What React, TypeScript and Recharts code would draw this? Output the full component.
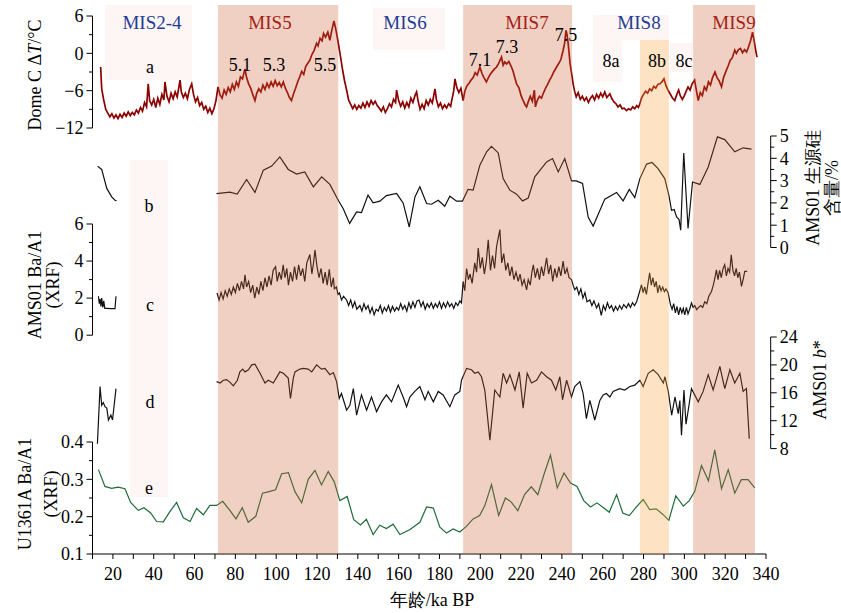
import React from 'react';
import { ComposedChart, Line, XAxis, YAxis, ReferenceArea } from 'recharts';

type Pt = [number, number | null];

// a: Dome C ΔT (°C) vs age (ka BP)
const domeC: Pt[] = [
  [14.0, -2.2], [14.5, -5.7], [15.5, -7.5], [16.5, -9.0], [17.5, -9.6], [18.5, -10.2], [19.5, -9.7], [20.5, -10.4],
  [21.5, -9.9], [22.5, -10.5], [23.5, -9.8], [24.5, -10.3], [25.5, -9.6], [26.5, -10.1], [27.5, -9.4], [28.5, -10.0],
  [29.5, -9.5], [30.5, -9.9], [31.5, -9.1], [32.5, -9.6], [33.5, -8.7], [34.5, -9.3], [35.5, -7.9], [36.5, -8.6],
  [37.3, -4.9], [38.0, -7.6], [39.0, -8.3], [40.0, -7.4], [41.0, -8.7], [42.0, -7.2], [43.0, -8.2], [44.0, -6.6],
  [45.0, -7.5], [45.5, -4.6], [46.5, -6.9], [47.5, -7.8], [48.5, -6.4], [49.5, -7.3], [50.5, -6.2], [51.5, -7.0],
  [52.9, -4.3], [53.5, -6.2], [54.5, -7.1], [55.5, -6.4], [56.5, -7.3], [57.5, -5.8], [58.6, -4.9], [59.5, -6.6],
  [60.5, -7.8], [61.5, -7.1], [62.5, -8.4], [63.5, -7.9], [64.5, -9.0], [65.5, -8.5], [66.5, -9.5], [67.5, -8.8],
  [68.5, -9.7], [69.5, -8.9], [70.5, -7.6], [71.5, -5.4], [72.5, -6.7], [73.5, -7.2], [74.5, -5.9], [75.5, -6.6],
  [76.5, -5.5], [77.5, -6.2], [78.5, -5.0], [79.5, -5.8], [80.5, -4.6], [81.5, -5.3], [82.5, -3.8], [83.5, -4.1],
  [84.7, -2.5], [85.5, -3.9], [86.5, -4.9], [87.5, -5.6], [88.5, -6.6], [89.6, -7.6], [90.5, -6.4], [91.5, -5.7],
  [92.5, -6.2], [93.5, -5.1], [94.5, -5.8], [95.5, -4.8], [96.5, -5.5], [97.5, -4.6], [98.5, -5.3], [99.5, -4.4],
  [100.5, -5.2], [101.5, -4.7], [102.5, -5.4], [103.5, -4.6], [104.5, -5.6], [105.5, -6.3], [106.5, -7.1], [107.5, -7.6],
  [108.5, -6.5], [109.5, -5.6], [110.5, -4.6], [111.5, -3.8], [112.5, -2.9], [113.5, -3.4], [114.5, -2.1], [115.5, -1.6],
  [116.5, -1.1], [117.5, -0.2], [118.5, 0.4], [119.8, 1.6], [120.5, 1.2], [121.5, 2.4], [122.5, 2.0], [123.2, 3.2],
  [124.2, 2.6], [125.3, 3.4], [126.3, 2.1], [127.2, 3.6], [128.3, 5.2], [129.0, 4.2], [129.6, 3.2], [130.5, 1.5],
  [131.5, -0.5], [132.5, -2.6], [133.5, -4.4], [134.5, -5.9], [135.5, -7.5], [136.5, -8.2], [137.5, -8.9], [138.5, -8.3],
  [139.5, -9.0], [140.5, -8.4], [141.5, -8.8], [142.5, -8.0], [143.5, -8.7], [144.5, -7.8], [145.5, -8.5], [146.5, -7.6],
  [147.5, -8.2], [148.5, -7.7], [149.5, -8.4], [150.5, -8.8], [151.5, -9.3], [152.5, -8.6], [153.5, -9.5], [154.5, -8.9],
  [155.5, -8.1], [156.5, -8.6], [157.5, -7.4], [158.5, -7.9], [159.0, -5.9], [160.0, -7.6], [161.0, -8.5], [162.0, -7.8],
  [163.0, -8.8], [164.0, -7.9], [165.0, -8.6], [166.0, -7.2], [167.0, -7.9], [168.0, -6.8], [168.8, -6.2], [169.5, -7.6],
  [170.5, -9.0], [171.5, -8.2], [172.5, -8.9], [173.5, -7.6], [174.5, -8.3], [175.5, -7.4], [176.5, -8.0], [177.8, -5.7],
  [178.5, -7.4], [179.5, -8.6], [180.5, -8.0], [181.5, -8.9], [182.5, -8.3], [183.5, -8.8], [184.5, -8.1], [185.5, -8.5],
  [186.0, -7.6], [187.0, -6.0], [187.6, -4.1], [188.5, -5.5], [189.5, -6.3], [190.5, -5.6], [191.6, -7.6], [192.5, -6.0],
  [193.5, -5.2], [194.5, -4.8], [195.5, -4.3], [196.5, -3.9], [197.5, -3.1], [198.5, -3.5], [199.8, -2.2], [200.8, -3.2],
  [201.8, -3.9], [203.0, -4.6], [204.0, -3.9], [205.0, -3.3], [206.0, -2.9], [207.0, -2.5], [208.0, -2.2], [209.0, -1.6],
  [210.4, -0.6], [211.2, -1.9], [212.0, -1.4], [212.9, -1.7], [214.0, -1.3], [215.0, -2.0], [216.0, -2.8], [217.0, -4.0],
  [217.8, -4.9], [219.0, -5.6], [220.0, -6.8], [221.0, -7.6], [222.0, -8.3], [222.7, -8.6], [223.5, -7.8], [224.5, -6.9],
  [225.5, -7.7], [226.5, -5.9], [227.0, -8.6], [228.0, -7.5], [229.0, -6.9], [230.0, -7.2], [230.8, -6.5], [232.0, -5.6],
  [233.0, -5.0], [234.0, -4.3], [235.0, -3.7], [236.0, -3.0], [237.4, -2.2], [238.5, -1.6], [239.5, -1.0], [240.6, 0.5],
  [241.3, 1.6], [242.0, 3.7], [242.5, 3.0], [243.0, 1.8], [244.0, -1.6], [245.0, -3.8], [245.5, -4.9], [246.3, -6.2],
  [247.0, -7.0], [248.0, -6.3], [249.0, -7.4], [250.0, -6.9], [251.0, -7.6], [252.0, -7.1], [253.0, -7.9], [254.0, -7.2],
  [255.0, -6.8], [256.0, -7.5], [257.0, -6.6], [258.0, -7.2], [259.0, -6.4], [260.0, -7.0], [261.0, -6.2], [262.0, -7.1],
  [263.5, -6.5], [264.5, -7.3], [265.5, -7.8], [266.5, -8.1], [267.5, -8.6], [268.5, -8.3], [269.5, -8.9], [270.5, -8.8],
  [271.7, -9.2], [272.7, -8.9], [273.7, -9.1], [274.7, -8.6], [275.7, -8.9], [276.7, -8.4], [277.5, -8.7], [278.2, -8.1],
  [279.0, -7.2], [280.0, -6.6], [281.0, -6.1], [282.0, -6.4], [283.0, -5.7], [284.0, -6.0], [285.0, -5.3], [286.0, -5.6],
  [287.0, -5.0], [288.0, -4.9], [289.0, -4.6], [290.0, -4.1], [291.0, -5.2], [292.0, -5.9], [293.0, -6.5], [294.0, -7.1],
  [295.3, -7.6], [296.3, -6.6], [297.2, -5.9], [298.0, -6.8], [299.0, -7.4], [300.0, -6.8], [301.0, -6.0], [301.8, -5.4],
  [302.8, -5.9], [303.8, -4.9], [305.0, -4.3], [305.8, -5.8], [306.8, -7.6], [307.8, -6.3], [308.8, -6.8], [309.8, -5.4],
  [310.8, -5.9], [311.8, -4.6], [312.8, -5.1], [313.8, -3.9], [315.0, -3.0], [316.0, -3.9], [317.0, -4.4], [318.2, -5.4],
  [319.2, -3.9], [320.6, -2.7], [321.5, -2.0], [322.5, -1.1], [323.5, -0.7], [324.7, 0.5], [325.5, 0.0], [326.5, 0.6],
  [327.5, 0.8], [328.5, 0.1], [329.5, 0.6], [330.5, 0.2], [331.5, 1.1], [332.5, 2.1], [333.4, 3.4], [334.2, 2.0],
  [335.0, 0.4], [335.6, -0.6],
];

// b: AMS01 biogenic silica (%)
const opal: Pt[] = [
  [12.5, 3.65], [14.5, 3.5], [17.0, 2.65], [19.4, 2.27], [21.0, 2.12], [21.8, 2.1], [45, null],
  [70.8, 2.42], [77.3, 2.48], [80.9, 2.4], [85.5, 3.05], [89.6, 2.47], [93.7, 3.47], [97.8, 3.65], [101.8, 4.06],
  [105.9, 3.5], [110.0, 3.29], [114.0, 3.39], [118.2, 2.72], [122.3, 3.17], [126.3, 2.83], [130.4, 2.12], [132.8, 1.75],
  [136.0, 1.08], [139.4, 1.6], [141.8, 1.57], [145.0, 2.35], [147.5, 2.0], [150.8, 2.08], [154.0, 2.33], [159.0, 2.42],
  [162.2, 2.0], [165.2, 0.92], [168.0, 2.27], [170.4, 2.72], [173.7, 1.97], [176.1, 1.94], [179.4, 2.12], [182.6, 1.85],
  [185.1, 2.3], [188.4, 2.08], [191.3, 2.08], [194.0, 2.61], [196.5, 2.57], [199.8, 3.69], [203.1, 4.29], [205.5, 4.54],
  [208.8, 4.24], [211.2, 3.09], [214.5, 2.57], [217.8, 2.39], [220.7, 2.09], [223.5, 2.22], [226.7, 3.17], [232.5, 3.84],
  [235.4, 3.99], [238.2, 3.39], [241.4, 3.99], [244.7, 2.99], [247.0, 2.99], [250.1, 2.87], [252.9, 1.35], [255.3, 0.96],
  [261.0, 2.17], [266.8, 2.47], [270.0, 2.09], [273.0, 2.6], [275.7, 2.24], [278.2, 3.09], [281.5, 3.74], [284.2, 3.81],
  [287.1, 3.54], [290.4, 3.09], [292.5, 2.3], [293.7, 1.67], [295.0, 1.7], [296.2, 1.37], [297.4, 1.25], [298.2, 0.78],
  [299.7, 4.24], [301.8, 0.85], [304.0, 2.94], [307.6, 2.83], [311.7, 3.61], [316.2, 4.96], [319.8, 4.84], [324.7, 4.29],
  [328.8, 4.47], [332.9, 4.41],
];

// c: AMS01 Ba/Al (XRF)
const baAms: Pt[] = [
  [12.9, 2.1], [13.3, 1.7], [13.7, 1.95], [14.1, 1.55], [14.5, 2.0], [15.0, 1.5], [15.5, 1.85], [16.0, 1.45],
  [17.0, 1.45], [19.0, 1.43], [21.0, 1.43], [21.5, 2.1], [45, null],
  [71.0, 2.28], [72.0, 1.9], [73.0, 2.3], [74.0, 1.95], [75.0, 2.4], [76.0, 2.1], [77.0, 2.5], [78.0, 2.2],
  [79.0, 2.6], [80.0, 2.3], [81.0, 2.8], [82.0, 2.4], [83.0, 2.9], [84.0, 2.5], [84.7, 3.26], [85.5, 2.6],
  [86.5, 2.9], [87.5, 2.3], [88.5, 2.7], [89.5, 2.0], [90.5, 2.6], [91.5, 2.2], [92.5, 2.9], [93.5, 2.4],
  [94.5, 3.1], [95.5, 2.6], [96.5, 3.2], [97.5, 2.7], [98.5, 3.5], [99.7, 3.7], [100.5, 2.9], [101.5, 3.4],
  [102.5, 3.0], [103.4, 3.8], [104.3, 3.1], [105.2, 3.6], [106.0, 2.7], [107.0, 3.4], [108.0, 2.9], [109.0, 3.7],
  [110.0, 3.0], [111.0, 3.8], [112.0, 3.2], [113.0, 3.6], [114.0, 2.9], [115.0, 3.9], [116.5, 4.35], [117.5, 3.3],
  [118.3, 3.9], [119.0, 4.6], [120.0, 3.7], [121.0, 3.1], [122.0, 3.6], [123.0, 2.8], [124.0, 3.4], [125.0, 2.7],
  [126.0, 3.55], [127.0, 2.6], [128.0, 3.1], [128.5, 2.5], [129.5, 2.6], [130.3, 2.2], [131.0, 2.28], [132.0, 1.9],
  [133.0, 2.1], [134.5, 1.9], [135.5, 1.6], [136.5, 1.9], [137.5, 1.5], [138.5, 1.8], [139.5, 1.4], [141.0, 1.6],
  [142.0, 1.3], [143.0, 1.7], [144.0, 1.4], [145.0, 1.6], [146.0, 1.2], [147.0, 1.5], [148.0, 1.1], [149.0, 1.4],
  [150.0, 1.3], [151.0, 1.6], [152.0, 1.2], [153.0, 1.5], [154.0, 1.3], [155.0, 1.6], [156.0, 1.25], [157.0, 1.55],
  [158.0, 1.3], [159.0, 1.5], [160.0, 1.35], [161.0, 1.7], [162.0, 1.4], [163.0, 1.6], [164.0, 1.3], [165.0, 1.75],
  [166.0, 1.45], [167.0, 1.8], [168.0, 1.5], [169.0, 1.85], [170.0, 1.9], [171.0, 1.55], [172.0, 1.8], [173.0, 1.4],
  [174.0, 1.7], [175.0, 1.5], [176.0, 1.75], [177.0, 1.45], [178.0, 1.7], [179.0, 1.5], [180.0, 1.8], [181.0, 1.45],
  [182.0, 1.75], [183.0, 1.5], [184.0, 1.8], [185.0, 1.55], [186.0, 1.7], [187.0, 1.45], [188.0, 1.75], [189.0, 1.6],
  [190.0, 1.85], [190.8, 1.74], [191.6, 2.9], [192.4, 2.4], [193.3, 3.6], [194.2, 3.0], [195.0, 3.3], [196.0, 2.8],
  [197.3, 3.9], [198.2, 3.4], [199.0, 4.7], [200.0, 3.6], [201.0, 4.2], [202.0, 3.3], [203.0, 4.0], [203.9, 5.15],
  [205.0, 3.5], [206.0, 4.3], [207.0, 3.6], [208.0, 4.8], [209.6, 5.7], [210.5, 3.9], [211.5, 4.4], [212.5, 3.5],
  [213.5, 3.9], [214.5, 3.2], [215.5, 3.7], [216.5, 3.0], [217.5, 3.4], [218.6, 2.9], [219.5, 3.3], [220.5, 2.7],
  [221.5, 3.0], [222.7, 2.45], [223.5, 3.0], [224.5, 2.7], [225.3, 3.4], [226.0, 3.8], [227.0, 3.1], [228.0, 3.6],
  [229.0, 3.0], [230.0, 3.7], [231.0, 3.2], [232.5, 4.17], [233.5, 3.3], [234.5, 3.8], [235.5, 2.9], [236.5, 3.6],
  [237.5, 3.1], [238.5, 3.7], [239.5, 3.2], [240.6, 4.0], [241.5, 3.3], [242.5, 3.6], [243.5, 3.1], [244.7, 3.0],
  [245.5, 2.7], [246.3, 2.45], [247.3, 2.6], [248.3, 2.2], [249.3, 2.5], [250.3, 2.0], [251.3, 2.3], [252.3, 1.8],
  [253.7, 1.9], [254.7, 1.6], [255.7, 1.85], [257.0, 1.47], [258.0, 1.7], [259.3, 1.07], [260.3, 1.6], [261.3, 1.35],
  [262.3, 1.75], [263.3, 1.45], [264.3, 1.6], [265.3, 1.3], [266.3, 1.55], [267.3, 1.35], [268.3, 1.6], [269.3, 1.4],
  [270.3, 1.65], [271.6, 1.47], [272.6, 1.7], [273.6, 1.5], [274.6, 1.75], [275.6, 1.6], [276.6, 1.8], [277.4, 2.1],
  [278.2, 2.4], [279.0, 2.72], [279.8, 2.3], [280.6, 2.6], [281.4, 2.2], [282.2, 2.8], [283.0, 3.36], [283.8, 2.7],
  [284.6, 3.1], [285.4, 2.6], [286.2, 2.9], [287.0, 2.28], [287.8, 2.7], [288.6, 2.4], [289.4, 2.6], [290.2, 2.35],
  [291.0, 2.5], [292.0, 2.3], [293.2, 1.65], [294.0, 1.4], [294.8, 1.7], [295.6, 1.2], [296.4, 1.55], [297.2, 1.1],
  [298.0, 1.5], [298.8, 1.2], [299.5, 1.45], [300.2, 1.1], [301.0, 1.5], [301.8, 1.15], [302.6, 1.4], [303.5, 1.74],
  [304.3, 1.5], [305.1, 1.6], [306.0, 1.38], [307.0, 1.5], [308.0, 1.6], [309.0, 1.5], [310.0, 1.8], [311.0, 1.7],
  [312.0, 2.1], [313.3, 2.36], [314.2, 2.7], [315.0, 3.1], [315.7, 3.53], [316.5, 3.0], [317.3, 3.5], [318.1, 3.1],
  [319.0, 3.6], [319.8, 3.8], [320.6, 3.2], [321.4, 3.6], [322.2, 3.4], [323.0, 4.34], [323.8, 3.5], [324.6, 3.2],
  [325.4, 3.6], [326.2, 3.1], [327.0, 3.4], [328.0, 2.63], [328.8, 3.0], [329.6, 3.44], [330.8, 3.44],
];

// d: AMS01 b*
const bStar: Pt[] = [
  [12.4, 8.7], [13.7, 16.9], [14.5, 14.2], [15.3, 14.6], [16.1, 14.0], [17.0, 13.8], [17.8, 12.1], [19.0, 12.8],
  [19.8, 12.1], [21.5, 16.6], [45, null],
  [70.8, 17.6], [72.5, 17.4], [74.1, 17.8], [75.7, 17.9], [77.4, 17.5], [79.0, 17.0], [81.0, 17.8], [82.2, 19.0],
  [83.6, 19.4], [84.7, 19.0], [86.4, 19.3], [88.0, 20.0], [89.6, 20.1], [92.1, 18.8], [94.5, 17.4], [96.1, 17.8],
  [98.6, 17.4], [101.8, 19.0], [103.5, 18.8], [105.9, 18.1], [107.0, 15.2], [108.4, 18.1], [109.2, 19.0], [111.6, 19.4],
  [113.3, 19.5], [115.7, 19.4], [117.4, 19.0], [119.8, 20.0], [122.2, 19.4], [123.9, 19.5], [126.3, 18.6], [128.0, 18.9],
  [129.6, 17.6], [130.9, 15.2], [132.0, 15.9], [134.5, 13.5], [136.1, 14.2], [137.8, 16.6], [139.4, 12.8], [141.8, 15.7],
  [144.3, 13.5], [146.7, 15.4], [149.2, 13.3], [151.6, 14.7], [154.0, 15.7], [156.5, 14.7], [159.8, 17.1], [162.2, 15.4],
  [163.9, 14.0], [165.5, 15.4], [167.9, 16.2], [170.4, 16.9], [172.9, 15.0], [174.5, 16.2], [177.0, 14.7], [179.4, 16.2],
  [181.8, 15.7], [185.1, 14.0], [187.5, 15.7], [190.0, 16.2], [190.8, 17.8], [193.3, 19.5], [195.7, 19.3], [197.3, 18.8],
  [199.0, 19.0], [200.6, 18.3], [202.2, 16.4], [203.4, 13.0], [204.7, 9.2], [206.0, 13.0], [207.1, 16.4], [209.6, 15.4],
  [211.2, 18.8], [212.9, 17.4], [214.5, 18.6], [217.0, 16.4], [219.1, 19.0], [221.0, 13.8], [223.0, 18.8], [225.1, 17.4],
  [227.6, 17.8], [230.0, 19.0], [232.5, 18.3], [234.9, 17.8], [237.0, 16.4], [239.0, 18.3], [240.3, 15.0], [242.3, 17.8],
  [244.7, 15.4], [246.3, 16.9], [248.8, 17.6], [250.4, 15.9], [252.0, 12.3], [253.7, 14.9], [256.1, 12.1], [258.6, 14.9],
  [260.2, 15.7], [261.8, 15.9], [263.5, 15.4], [265.1, 16.2], [268.3, 16.6], [270.8, 16.4], [273.3, 16.9], [275.7, 17.1],
  [278.2, 17.8], [279.8, 16.9], [282.3, 18.8], [284.7, 19.3], [287.2, 18.6], [289.7, 17.4], [290.5, 18.3], [292.1, 16.2],
  [293.8, 12.8], [295.4, 15.4], [297.0, 13.0], [297.8, 14.9], [298.6, 9.9], [299.8, 16.4], [300.8, 11.5], [301.9, 13.5],
  [303.5, 16.6], [306.8, 14.7], [309.2, 16.2], [311.7, 18.6], [314.1, 16.4], [317.4, 19.8], [319.8, 16.6], [322.3, 19.3],
  [324.7, 17.4], [327.2, 18.8], [328.8, 16.2], [330.4, 16.6], [331.8, 9.4],
];

// e: U1361A Ba/Al (XRF)
const baU1361: Pt[] = [
  [12.9, 0.326], [16.1, 0.281], [19.4, 0.276], [22.6, 0.279], [25.9, 0.275], [28.7, 0.238], [32.4, 0.217], [35.2, 0.224],
  [38.5, 0.21], [41.4, 0.187], [44.7, 0.186], [48.0, 0.214], [51.2, 0.238], [54.5, 0.197], [57.8, 0.187], [61.0, 0.222],
  [64.3, 0.205], [67.5, 0.23], [70.8, 0.23], [73.8, 0.241], [77.4, 0.216], [80.3, 0.194], [83.4, 0.224], [86.3, 0.185],
  [90.0, 0.201], [93.3, 0.263], [96.5, 0.267], [99.7, 0.272], [102.7, 0.315], [106.0, 0.318], [109.2, 0.267], [112.5, 0.237],
  [115.7, 0.3], [119.0, 0.324], [122.2, 0.285], [125.5, 0.321], [128.4, 0.294], [131.2, 0.243], [134.8, 0.254], [138.0, 0.192],
  [141.3, 0.178], [144.2, 0.193], [147.5, 0.152], [150.7, 0.177], [154.0, 0.168], [157.3, 0.18], [160.6, 0.152], [165.4, 0.165],
  [170.4, 0.185], [173.7, 0.226], [177.0, 0.223], [180.2, 0.172], [183.5, 0.156], [186.7, 0.167], [190.0, 0.159], [193.2, 0.174],
  [196.5, 0.194], [199.7, 0.203], [202.2, 0.229], [205.5, 0.286], [209.0, 0.203], [212.3, 0.25], [215.2, 0.239], [218.4, 0.216],
  [221.7, 0.259], [225.0, 0.28], [228.2, 0.259], [231.2, 0.313], [234.4, 0.365], [237.7, 0.277], [241.0, 0.317], [244.2, 0.29],
  [247.4, 0.281], [250.7, 0.243], [254.0, 0.226], [257.2, 0.237], [260.4, 0.224], [263.2, 0.212], [266.8, 0.259], [269.8, 0.21],
  [273.0, 0.203], [276.2, 0.224], [279.8, 0.246], [283.0, 0.219], [286.2, 0.221], [289.5, 0.206], [292.4, 0.19], [295.8, 0.256],
  [299.5, 0.228], [302.4, 0.243], [305.1, 0.268], [308.4, 0.337], [311.8, 0.296], [314.9, 0.379], [318.2, 0.275], [321.5, 0.326],
  [324.7, 0.263], [327.9, 0.299], [331.2, 0.299], [334.5, 0.277],
];

// marine isotope stage bands (ka)
const misBands: [number, number][] = [[71.5, 130.4], [191.6, 245.0], [304.3, 334.6]];
const band8b: [number, number] = [278.2, 292.4];

// ticks
const xTicks = [10, 20, 30, 40, 50, 60, 70, 80, 90, 100, 110, 120, 130, 140, 150, 160, 170, 180, 190, 200,
  210, 220, 230, 240, 250, 260, 270, 280, 290, 300, 310, 320, 330, 340];
const xLabels = [20, 40, 60, 80, 100, 120, 140, 160, 180, 200, 220, 240, 260, 280, 300, 320, 340];
const aTicks = [-12, -9, -6, -3, 0, 3, 6];
const aLabels = [-12, -6, 0, 6];
const bTicks = [0, 0.5, 1, 1.5, 2, 2.5, 3, 3.5, 4, 4.5, 5];
const bLabels = [0, 1, 2, 3, 4, 5];
const cTicks = [0, 1, 2, 3, 4, 5, 6];
const cLabels = [0, 2, 4, 6];
const dTicks = [8, 10, 12, 14, 16, 18, 20, 22, 24];
const dLabels = [8, 12, 16, 20, 24];
const eTicks = [0.1, 0.15, 0.2, 0.25, 0.3, 0.35, 0.4];
const eLabels = [0.1, 0.2, 0.3, 0.4];

const W = 841;
const H = 613;
const PLOT_L = 92.5;
const PLOT_R = 766;
const RIGHT_AXIS = 770.7;
const PAD = 14;
const BAND_TOP = 5;
const BAND_BOTTOM = 554.3;
const FONT = 'Liberation Serif, Times New Roman, Times, serif';

const fmtNum = (v: number) => (v < 0 ? '\u2212' + Math.abs(v) : String(v));
const toRows = (pts: Pt[]) => pts.map(([age, v]) => ({ age, v }));
const has = (arr: number[], v: number) => arr.some((a) => Math.abs(a - v) < 1e-9);

interface PanelProps {
  pts: Pt[];
  top: number;
  bottom: number;
  domain: [number, number];
  ticks: number[];
  labels: number[];
  side: 'left' | 'right';
  stroke: string;
  strokeWidth?: number;
  showX?: boolean;
}

const Panel = ({ pts, top, bottom, domain, ticks, labels, side, stroke, strokeWidth = 1.2, showX = false }: PanelProps) => {
  const right = side === 'right';
  const h = bottom - top;
  const axisX = right ? RIGHT_AXIS : PLOT_L;
  const kaPerPx = 330 / (PLOT_R - PLOT_L);
  const xMax = right ? 10 + (RIGHT_AXIS - PLOT_L) * kaPerPx : 340;
  const xH = showX ? 48 : 0;
  const axisY = PAD + h;

  const yTick = (t: any) => {
    const v = t.payload.value;
    const major = has(labels, v);
    const len = major ? 6 : 3.5;
    const dir = right ? 1 : -1;
    return (
      <g>
        <line x1={axisX} x2={axisX + dir * len} y1={t.y} y2={t.y} stroke="#000" strokeWidth={1} />
        {major && (
          <text x={axisX + dir * (len + 3)} y={t.y} dy="0.35em" textAnchor={right ? 'start' : 'end'}
            fontSize={18} fontFamily={FONT} fill="#000">
            {fmtNum(v)}
          </text>
        )}
      </g>
    );
  };

  const xTick = (t: any) => {
    const v = t.payload.value;
    return (
      <g>
        <line x1={t.x} x2={t.x} y1={axisY} y2={axisY + 5} stroke="#000" strokeWidth={1} />
        {has(xLabels, v) && (
          <text x={t.x} y={axisY + 20} dy="0.35em" textAnchor="middle" fontSize={18} fontFamily={FONT} fill="#000">
            {v}
          </text>
        )}
      </g>
    );
  };

  return (
    <ComposedChart
      width={W}
      height={h + 2 * PAD + xH}
      data={toRows(pts)}
      margin={{ top: PAD, bottom: PAD, left: right ? PLOT_L : 0, right: right ? 0 : W - PLOT_R }}
      style={{ position: 'absolute', left: 0, top: top - PAD }}
    >
      <XAxis type="number" dataKey="age" domain={[10, xMax]} allowDataOverflow hide={!showX}
        ticks={xTicks} interval={0} height={xH} tick={xTick} tickLine={false}
        axisLine={{ stroke: '#000', strokeWidth: 1 }} />
      <YAxis orientation={side} width={right ? W - RIGHT_AXIS : PLOT_L} domain={domain} allowDataOverflow
        ticks={ticks} interval={0} tick={yTick} tickLine={false} axisLine={{ stroke: '#000', strokeWidth: 1 }} />
      <Line type="linear" dataKey="v" stroke={stroke} strokeWidth={strokeWidth} dot={false} activeDot={false}
        isAnimationActive={false} connectNulls={false} />
    </ComposedChart>
  );
};

const Bands = () => {
  const bh = BAND_BOTTOM - BAND_TOP;
  return (
    <ComposedChart
      width={W}
      height={bh}
      data={xTicks.map((age) => ({ age }))}
      margin={{ top: 0, bottom: 0, left: PLOT_L, right: W - PLOT_R }}
      style={{ position: 'absolute', left: 0, top: BAND_TOP }}
    >
      <XAxis type="number" dataKey="age" domain={[10, 340]} hide />
      <YAxis domain={[0, bh]} hide allowDataOverflow />
      {misBands.map(([a, b]) => (
        <ReferenceArea key={a} x1={a} x2={b} y1={0} y2={bh} fill="#cd6237" fillOpacity={0.3} stroke="none" ifOverflow="visible" />
      ))}
      <ReferenceArea x1={band8b[0]} x2={band8b[1]} y1={0} y2={BAND_BOTTOM - 40} fill="#f89e37" fillOpacity={0.3}
        stroke="none" ifOverflow="visible" />
    </ComposedChart>
  );
};

const txt = { fontFamily: FONT, fill: '#000' } as const;
const BLUE = '#1f3c96';
const RED = '#a61c17';

export default function App() {
  return (
    <div style={{ position: 'absolute', left: 0, top: 0, width: W, height: H, background: '#fff', overflow: 'hidden' }}>
      {/* faint label backgrounds */}
      <svg width={W} height={H} style={{ position: 'absolute', left: 0, top: 0 }}>
        <g fill="#fdf6f4">
          <rect x={105} y={5} width={87} height={75} />
          <rect x={373} y={8} width={72} height={42} />
          <rect x={593} y={15} width={76} height={25} />
          <rect x={593} y={40} width={29} height={42} />
          <rect x={670} y={43} width={23} height={29} />
          <rect x={130} y={160} width={38} height={337} />
        </g>
      </svg>

      <Panel pts={domeC} top={15.7} bottom={127.7} domain={[-12, 6]} ticks={aTicks} labels={aLabels}
        side="left" stroke="#8b0000" strokeWidth={1.7} />
      <Panel pts={opal} top={135.8} bottom={247.3} domain={[0, 5]} ticks={bTicks} labels={bLabels}
        side="right" stroke="#111" />
      <Panel pts={baAms} top={224.3} bottom={335.5} domain={[0, 6]} ticks={cTicks} labels={cLabels}
        side="left" stroke="#111" />
      <Panel pts={bStar} top={336.7} bottom={448.3} domain={[8, 24]} ticks={dTicks} labels={dLabels}
        side="right" stroke="#111" />
      <Panel pts={baU1361} top={442.3} bottom={554.3} domain={[0.1, 0.4]} ticks={eTicks} labels={eLabels}
        side="left" stroke="#1f6b3a" showX />

      <Bands />

      <svg width={W} height={H} style={{ position: 'absolute', left: 0, top: 0, pointerEvents: 'none' }}>
        <g fontSize={19} fontFamily={FONT} textAnchor="middle">
          <text x={152} y={22} dy="0.35em" fill={BLUE}>MIS2-4</text>
          <text x={270} y={22} dy="0.35em" fill={RED}>MIS5</text>
          <text x={405} y={22} dy="0.35em" fill={BLUE}>MIS6</text>
          <text x={527} y={22} dy="0.35em" fill={RED}>MIS7</text>
          <text x={639} y={22} dy="0.35em" fill={BLUE}>MIS8</text>
          <text x={734} y={22} dy="0.35em" fill={RED}>MIS9</text>
        </g>
        <g fontSize={18} textAnchor="middle" {...txt}>
          <text x={150} y={67} dy="0.35em">a</text>
          <text x={240} y={65} dy="0.35em">5.1</text>
          <text x={274} y={65} dy="0.35em">5.3</text>
          <text x={325} y={65} dy="0.35em">5.5</text>
          <text x={480} y={60} dy="0.35em">7.1</text>
          <text x={507} y={47} dy="0.35em">7.3</text>
          <text x={566} y={35} dy="0.35em">7.5</text>
          <text x={611} y={61} dy="0.35em">8a</text>
          <text x={657} y={61} dy="0.35em">8b</text>
          <text x={684} y={61} dy="0.35em">8c</text>
          <text x={149} y={206} dy="0.35em">b</text>
          <text x={150} y={305} dy="0.35em">c</text>
          <text x={150} y={402} dy="0.35em">d</text>
          <text x={149} y={488} dy="0.35em">e</text>
        </g>
        <g fontSize={18} textAnchor="middle" {...txt}>
          <text transform="translate(41,75) rotate(-90)">
            Dome C {'\u0394'}<tspan fontStyle="italic">T</tspan>/°C
          </text>
          <text transform="translate(41,285) rotate(-90)">AMS01 Ba/A1</text>
          <text transform="translate(59,285) rotate(-90)">(XRF)</text>
          <text transform="translate(31,494) rotate(-90)">U1361A Ba/A1</text>
          <text transform="translate(57,494) rotate(-90)">(XRF)</text>
          <text transform="translate(819,188) rotate(-90)">AMS01 生源硅</text>
          <text transform="translate(838,188) rotate(-90)">含量/%</text>
          <text transform="translate(826,380) rotate(-90)">
            AMS01 <tspan fontStyle="italic">b</tspan>*
          </text>
          <text x={432} y={600} dy="0.35em">年龄/ka BP</text>
        </g>
      </svg>
    </div>
  );
}
